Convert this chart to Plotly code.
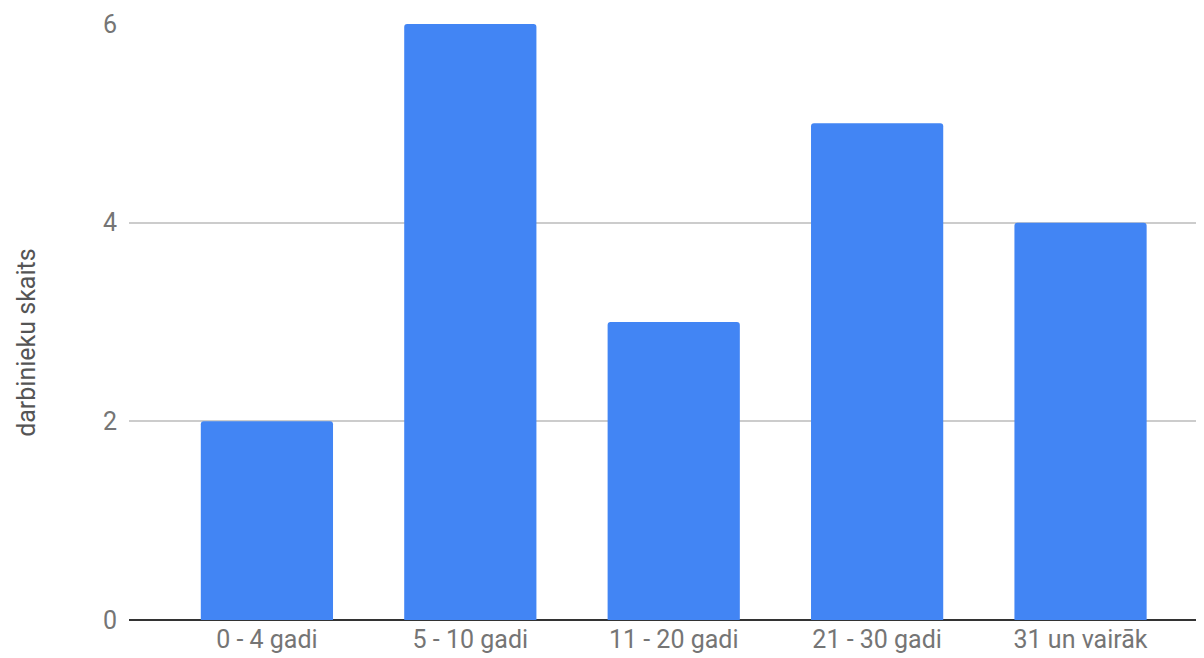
import plotly.graph_objects as go

categories = ["0 - 4 gadi", "5 - 10 gadi", "11 - 20 gadi", "21 - 30 gadi", "31 un vairāk"]
values = [2, 6, 3, 5, 4]
y_ticks = [0, 2, 4, 6]
y_title = "darbinieku skaits"

fig = go.Figure(go.Bar(x=categories, y=values, marker=dict(color="#4285F4", line=dict(width=0))))

fig.update_layout(
    width=1196, height=650,
    margin=dict(l=121, r=0, t=16, b=38),
    paper_bgcolor="white", plot_bgcolor="white",
    bargap=0.35, barcornerradius=3,
    font=dict(family="Roboto", size=25, color="#757575"),
    showlegend=False,
    annotations=[dict(
        text=y_title, xref="paper", yref="paper", x=-0.0949, y=0.465,
        xanchor="center", yanchor="middle", textangle=-90, showarrow=False,
        font=dict(family="Roboto", size=25, color="#555555"),
    )],
)
fig.update_xaxes(
    range=[-0.678, 4.607], showgrid=False, showline=False, zeroline=False,
    ticks="", tickfont=dict(size=25, color="#757575"), ticklabelstandoff=2,
)
fig.update_yaxes(
    range=[0, 6], tickvals=y_ticks, showgrid=True, gridcolor="#cccccc", gridwidth=1.5,
    zeroline=True, zerolinecolor="#333333", zerolinewidth=2,
    showline=False, ticks="", ticklabelstandoff=11,
    tickfont=dict(size=25, color="#757575"),
    automargin=False,
)

fig.write_html("out.html")
